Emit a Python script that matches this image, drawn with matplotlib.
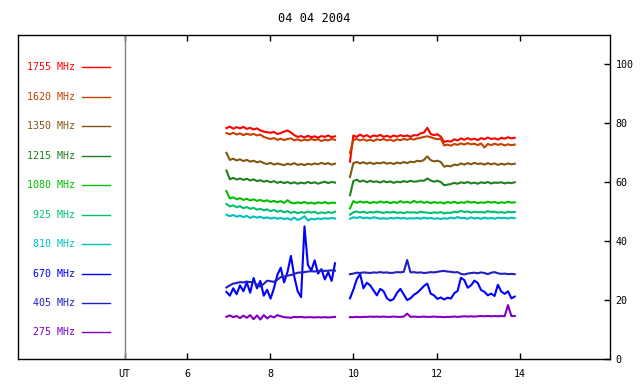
import numpy as np
import matplotlib
matplotlib.use("Agg")
import matplotlib.pyplot as plt

# Radio flux channels, 04 04 2004 (hours UT)
labels = ['1755 MHz', '1620 MHz', '1350 MHz', '1215 MHz', '1080 MHz',
          '925 MHz', '810 MHz', '670 MHz', '405 MHz', '275 MHz']
colors = ['#ff0000', '#c84000', '#805810', '#208020', '#00c000',
          '#00c070', '#00c0c0', '#0000ff', '#2020c0', '#8000c0']

t1 = np.linspace(6.95, 9.56, 33)
t2 = np.linspace(9.92, 13.88, 50)

red1 = [78.4, 78.9, 78.2, 78.7, 78.3, 78.8, 78.1, 78.5, 77.9, 78.3,
        77.6, 77.2, 77.0, 76.8, 77.1, 76.4, 76.7, 77.2, 77.6, 76.9,
        76.0, 75.4, 75.7, 75.2, 75.8, 75.3, 75.6, 75.1, 75.7, 75.4,
        75.9, 75.3, 75.6]
red2 = [67.0, 75.9, 75.4, 76.2, 75.5, 76.0, 75.3, 75.9, 75.6, 76.1,
        75.4, 75.8, 75.3, 75.9, 75.5, 76.0, 75.6, 75.9, 75.4, 76.0,
        75.9, 76.6, 76.9, 78.5, 76.4, 76.0, 76.3, 75.5, 73.7, 74.0,
        73.8, 74.6, 74.2, 74.9, 74.4, 75.0, 74.5, 74.8, 74.3, 75.0,
        74.6, 75.2, 74.7, 74.9, 74.5, 75.1, 74.8, 75.3, 74.9, 75.1]

orange1 = [76.7, 76.3, 76.8, 76.2, 76.6, 76.0, 76.5, 76.1, 76.4, 75.9,
           76.2, 75.4, 75.0, 74.7, 75.0, 74.4, 74.8, 74.3, 74.7, 74.9,
           74.2, 74.6, 74.1, 74.5, 74.2, 74.7, 74.3, 74.6, 74.0, 74.5,
           74.2, 74.7, 74.4]
orange2 = [70.0, 74.3, 74.7, 74.2, 74.6, 74.1, 74.5, 74.0, 74.6, 74.3,
           74.7, 74.2, 74.5, 74.0, 74.6, 74.3, 74.7, 74.4, 74.8, 74.5,
           74.9, 75.1, 75.4, 75.6, 75.3, 74.9, 74.6, 74.8, 72.5, 72.8,
           72.4, 73.0, 72.7, 73.2, 72.8, 73.3, 72.9, 73.1, 72.6, 73.2,
           71.8, 73.0, 72.6, 73.1, 72.7, 73.0, 72.5, 72.9, 72.6, 72.8]

brown1 = [70.0, 67.6, 68.0, 67.4, 67.8, 67.2, 67.6, 67.0, 67.3, 66.8,
          67.1, 66.5, 66.2, 66.6, 66.0, 66.4, 66.1, 65.8, 66.3, 66.0,
          66.5, 65.9, 66.2, 65.8, 66.3, 66.0, 66.4, 66.1, 66.6, 66.2,
          66.5, 66.0, 66.3]
brown2 = [61.8, 66.5, 66.9, 66.4, 66.8, 66.3, 66.7, 66.2, 66.6, 66.4,
          66.8, 66.3, 66.6, 66.2, 66.7, 66.4, 66.9, 66.5, 67.0, 66.8,
          67.3, 67.1, 67.6, 68.8, 67.5, 67.1, 67.3, 66.9, 65.3, 65.6,
          65.4, 66.0, 65.8, 66.4, 66.0, 66.5, 66.1, 66.6, 66.2, 66.4,
          66.0, 66.5, 66.1, 66.4, 65.9, 66.3, 66.0, 66.4, 66.1, 66.3]

dgreen1 = [64.0, 61.0, 61.5, 60.9, 61.3, 60.8, 61.2, 60.6, 61.0, 60.4,
           60.7, 60.2, 60.5, 60.0, 60.4, 59.8, 60.2, 59.7, 60.1, 59.6,
           60.0, 59.5, 59.9, 59.6, 60.1, 59.7, 60.0, 59.5, 59.9, 60.2,
           59.7, 60.1, 59.9]
dgreen2 = [55.6, 60.4, 60.9, 60.2, 60.6, 60.0, 60.5, 60.1, 60.3, 59.9,
           60.4, 60.0, 60.3, 59.8, 60.2, 60.0, 60.4, 60.1, 60.5, 60.2,
           60.3, 60.6, 60.5, 61.3, 60.6, 60.2, 60.5, 60.1, 59.0, 59.2,
           59.4, 59.8, 59.5, 60.0, 59.7, 60.1, 59.6, 59.9, 59.5, 60.0,
           59.7, 60.1, 59.6, 59.9, 59.8, 60.0, 59.6, 59.9, 59.7, 60.0]

g1080_1 = [57.0, 54.5, 54.9, 54.2, 54.6, 54.0, 54.4, 53.8, 54.2, 53.7,
           54.0, 53.5, 53.9, 53.3, 53.7, 53.2, 53.6, 53.0, 53.9, 53.1,
           52.8, 53.2, 52.9, 53.3, 52.8, 53.1, 52.7, 53.2, 52.9, 53.3,
           52.8, 53.1, 53.0]
g1080_2 = [51.1, 53.6, 53.0, 53.5, 53.1, 53.4, 52.9, 53.3, 53.0, 53.5,
           53.1, 53.4, 52.9, 53.3, 53.0, 53.6, 53.1, 53.4, 53.0, 53.7,
           53.1, 53.5, 53.0, 53.4, 52.9, 53.3, 53.0, 53.2, 52.8, 53.3,
           53.0, 53.4, 52.9, 53.2, 53.0, 53.5, 53.1, 53.3, 52.9, 53.2,
           53.0, 53.4, 53.1, 53.3, 52.9, 53.2, 53.0, 53.4, 53.1, 53.2]

c925_1 = [52.6, 51.8, 52.2, 51.5, 51.9, 51.2, 51.6, 51.0, 51.3, 50.7,
          51.0, 50.5, 50.8, 50.2, 50.6, 50.0, 50.4, 49.8, 50.2, 49.6,
          50.0, 49.5, 49.9, 49.6, 50.1, 49.7, 50.0, 49.4, 49.8, 49.5,
          49.9, 49.6, 50.0]
c925_2 = [49.0, 49.8, 50.1, 49.7, 50.0, 49.6, 49.9, 49.7, 50.1, 49.8,
          49.6, 49.9, 49.7, 50.0, 49.6, 49.8, 49.5, 49.9, 49.7, 49.8,
          49.6, 50.0, 49.8, 49.7, 49.5, 49.8, 49.6, 49.9, 49.4, 49.7,
          49.6, 50.0, 49.8, 50.3, 49.9, 50.1, 49.7, 50.0, 49.8, 49.9,
          49.7, 50.2, 49.9, 50.0, 49.7, 49.9, 49.6, 50.0, 49.8, 49.9]

c810_1 = [49.0, 48.5, 48.9, 48.3, 48.7, 48.2, 48.6, 47.9, 48.4, 48.0,
          48.3, 47.8, 48.1, 47.7, 48.0, 47.6, 47.9, 47.5, 47.8, 47.3,
          48.0, 47.2, 47.7, 48.5, 47.0, 47.6, 47.4, 47.7, 47.5, 47.8,
          47.6, 47.9, 47.7]
c810_2 = [47.6, 48.1, 47.9, 48.2, 47.8, 48.0, 47.7, 48.1, 47.9, 47.6,
          47.8, 47.6, 47.9, 47.7, 48.0, 47.7, 47.9, 47.6, 47.8, 47.7,
          47.9, 47.6, 48.0, 47.7, 47.9, 47.6, 47.8, 47.5, 47.8, 47.6,
          48.0, 47.7, 48.2, 47.8, 47.9, 47.6, 48.1, 47.7, 47.9, 47.6,
          48.0, 47.7, 47.9, 47.6, 48.0, 47.8, 47.9, 47.7, 48.0, 47.8]

blue1 = [22.8, 21.5, 24.0, 22.0, 25.0, 23.0, 26.0, 22.5, 27.5, 24.0,
         26.5, 21.5, 23.5, 20.5, 24.0, 28.5, 31.0, 26.0, 29.5, 35.0,
         28.0, 23.0, 21.0, 45.0, 32.0, 30.0, 33.5, 29.0, 30.5, 27.0,
         29.5, 26.5, 32.5]
blue2 = [20.6, 23.5, 27.0, 28.9, 24.0, 25.9, 25.0, 23.3, 21.6, 23.8,
         23.0, 20.6, 19.8, 20.4, 22.5, 23.8, 21.9, 20.0, 20.6, 21.8,
         22.5, 23.6, 24.8, 25.6, 22.2, 21.6, 20.4, 20.9, 20.2, 20.8,
         20.5, 22.3, 23.1, 27.6, 26.8, 24.2, 25.0, 26.6, 25.8, 23.4,
         22.8, 21.6, 22.2, 21.4, 25.2, 22.9, 22.1, 23.0, 20.6, 21.2]

dblue1 = [24.3, 25.0, 25.6, 25.8, 26.1, 26.0, 26.3, 26.1, 26.2, 25.2,
          24.6, 25.5, 26.6, 26.4, 26.2, 26.9, 27.8, 28.0, 28.3, 28.5,
          28.9, 29.3, 29.4, 29.5, 29.7, 29.8, 29.7, 29.9, 30.0, 29.9,
          30.0, 30.1, 30.0]
dblue2 = [28.8, 29.0, 29.3, 29.2, 29.4, 29.3, 29.2, 29.4, 29.3, 29.5,
          29.3, 29.4, 29.2, 29.3, 29.5, 29.4, 29.6, 33.6, 29.4, 29.5,
          29.3, 29.4, 29.2, 29.3, 29.5, 29.4, 29.6, 29.8, 29.9, 29.7,
          29.6, 29.4, 29.5, 28.9, 28.7, 29.0, 29.2, 29.3, 29.1, 29.4,
          29.2, 28.8, 29.3, 29.5, 29.1, 28.9, 29.0, 28.8, 28.9, 28.8]

purple1 = [14.3, 14.8, 14.2, 14.6, 13.9, 14.7, 14.0, 14.9, 13.5, 14.8,
           13.4, 14.9, 13.8, 14.6, 14.1, 14.9, 14.5, 14.2, 14.1, 14.0,
           14.3, 14.2, 14.3, 14.1, 14.2, 14.2, 14.1, 14.2, 14.1, 14.2,
           14.1, 14.2, 14.3]
purple2 = [14.2, 14.2, 14.3, 14.2, 14.3, 14.3, 14.4, 14.3, 14.4, 14.3,
           14.4, 14.3, 14.3, 14.4, 14.3, 14.3, 14.4, 15.4, 14.3, 14.4,
           14.3, 14.3, 14.4, 14.3, 14.3, 14.4, 14.3, 14.3, 14.2, 14.3,
           14.3, 14.4, 14.3, 14.4, 14.5, 14.4, 14.5, 14.4, 14.5, 14.6,
           14.5, 14.6, 14.5, 14.6, 14.5, 14.6, 14.5, 18.3, 14.6, 14.6]

seg1 = [red1, orange1, brown1, dgreen1, g1080_1, c925_1, c810_1, blue1, dblue1, purple1]
seg2 = [red2, orange2, brown2, dgreen2, g1080_2, c925_2, c810_2, blue2, dblue2, purple2]
legend_y = [99, 89, 79, 69, 59, 49, 39, 29, 19, 9]

plt.rc('font', family='DejaVu Sans Mono', size=7.2)

fig = plt.figure(figsize=(6.4, 3.84), dpi=100)
ax = fig.add_axes([18/640, 25/384, 592/640, 324/384])

for lab, col, a, b, ly in zip(labels, colors, seg1, seg2, legend_y):
    ax.plot(t1, a, color=col, lw=1.5)
    ax.plot(t2, b, color=col, lw=1.5)
    ax.text(3.31, ly, lab, color=col, ha='right', va='center')
    ax.plot([3.48, 4.15], [ly, ly], color=col, lw=1)

ax.axvline(4.5, color='#808080', lw=1)

ax.set_xlim(1.94, 16.17)
ax.set_ylim(0, 110)

ax.set_xticks([4.5, 6, 8, 10, 12, 14])
ax.set_xticklabels(['UT', '6', '8', '10', '12', '14'])
ax.tick_params(axis='x', direction='in', length=4, top=True, width=1, pad=7)
ax.yaxis.tick_right()
ax.set_yticks([0, 20, 40, 60, 80, 100])
ax.tick_params(axis='y', direction='in', length=4, width=1, pad=4)

for s in ax.spines.values():
    s.set_linewidth(1)

ax.set_title('04 04 2004', pad=9)

fig.savefig('out.png', dpi=100)
